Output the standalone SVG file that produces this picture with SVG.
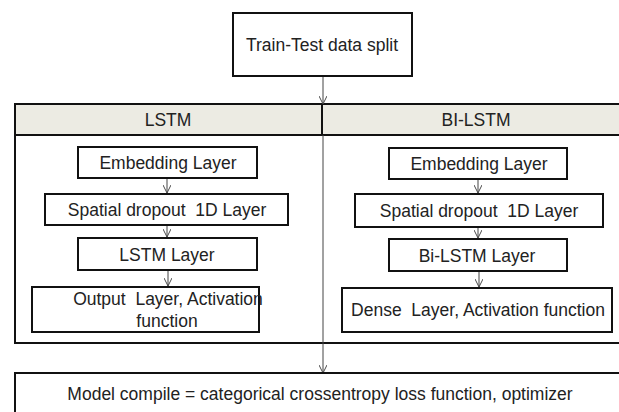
<svg xmlns="http://www.w3.org/2000/svg" width="619" height="412" viewBox="0 0 619 412">
<defs>
<style>
.box{fill:#fff;stroke:#111;stroke-width:2}
.hdr{fill:#ecebe3;stroke:#111;stroke-width:2}
.frame{fill:none;stroke:#111;stroke-width:2}
.t{font-family:"Liberation Sans",Arial,sans-serif;font-size:17.5px;fill:#222;text-anchor:middle}
.c{stroke:#444;stroke-width:1;fill:none}
</style>
<marker id="ah" viewBox="0 0 10 10" refX="10" refY="5" markerWidth="8" markerHeight="8" markerUnits="userSpaceOnUse" orient="auto">
<path d="M0,0 L10,5 L0,10" fill="none" stroke="#444" stroke-width="1.2"/>
</marker>
</defs>
<rect width="619" height="412" fill="#fff"/>

<g id="container">
<rect class="frame" x="15" y="104" width="615" height="239"/>
<rect class="hdr" x="15" y="104" width="615" height="31"/>
<line x1="322" y1="104" x2="322" y2="135" stroke="#111" stroke-width="2"/>
<text class="t" x="168" y="126">LSTM</text>
<text class="t" x="476" y="126">BI-LSTM</text>
</g>

<g id="connectors">
<line class="c" x1="323" y1="77" x2="323" y2="104" marker-end="url(#ah)"/>
<line class="c" x1="323" y1="135" x2="323" y2="373" marker-end="url(#ah)"/>
<line class="c" x1="167" y1="179" x2="167" y2="193" marker-end="url(#ah)"/>
<line class="c" x1="167" y1="226" x2="167" y2="237" marker-end="url(#ah)"/>
<line class="c" x1="168" y1="271" x2="168" y2="286" marker-end="url(#ah)"/>
<line class="c" x1="478" y1="180" x2="478" y2="193" marker-end="url(#ah)"/>
<line class="c" x1="478" y1="228" x2="478" y2="238" marker-end="url(#ah)"/>
<line class="c" x1="479" y1="272" x2="479" y2="287" marker-end="url(#ah)"/>
</g>

<g id="split">
<rect class="box" x="233" y="13" width="179" height="63"/>
<text class="t" x="322" y="51" font-size="18">Train-Test data split</text>
</g>

<g id="lstm-embedding">
<rect class="box" x="78" y="147" width="179" height="31"/>
<text class="t" x="168" y="169">Embedding Layer</text>
</g>
<g id="lstm-spatial">
<rect class="box" x="45" y="194" width="243" height="31"/>
<text class="t" x="167" y="216" xml:space="preserve">Spatial dropout  1D Layer</text>
</g>
<g id="lstm-layer">
<rect class="box" x="78" y="238" width="179" height="32"/>
<text class="t" x="167" y="261">LSTM Layer</text>
</g>
<g id="lstm-output">
<rect class="box" x="32" y="287" width="227" height="45"/>
<text class="t" x="168" y="305" xml:space="preserve">Output  Layer, Activation</text>
<text class="t" x="167" y="327">function</text>
</g>

<g id="bilstm-embedding">
<rect class="box" x="389" y="148" width="178" height="31"/>
<text class="t" x="479" y="170">Embedding Layer</text>
</g>
<g id="bilstm-spatial">
<rect class="box" x="355" y="194" width="248" height="33"/>
<text class="t" x="479" y="217" xml:space="preserve">Spatial dropout  1D Layer</text>
</g>
<g id="bilstm-layer">
<rect class="box" x="389" y="239" width="178" height="32"/>
<text class="t" x="477" y="262">Bi-LSTM Layer</text>
</g>
<g id="bilstm-dense">
<rect class="box" x="342" y="288" width="270" height="44"/>
<text class="t" x="478" y="316" xml:space="preserve">Dense  Layer, Activation function</text>
</g>

<g id="compile">
<rect class="box" x="15" y="373" width="620" height="50"/>
<text class="t" x="320" y="400">Model compile = categorical crossentropy loss function, optimizer</text>
</g>
</svg>
